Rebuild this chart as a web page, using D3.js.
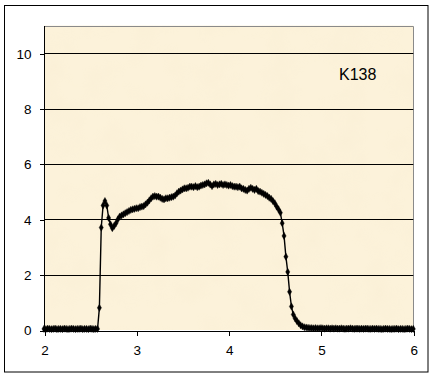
<!DOCTYPE html>
<html><head><meta charset="utf-8">
<script src="https://cdn.jsdelivr.net/npm/d3@7"></script>
<style>
html,body{margin:0;padding:0;background:#fff;}
svg{display:block;}
text{font-family:"Liberation Sans",Arial,sans-serif;fill:#000;}
</style></head>
<body>
<svg id="c" width="433" height="377"></svg>
<script>
const xTicks = [2, 3, 4, 5, 6];
const yTicks = [0, 2, 4, 6, 8, 10];
const seriesLabel = "K138";
const xs = [
2.00,2.02,2.04,2.06,2.08,2.10,2.12,2.14,2.16,2.18,
2.20,2.22,2.24,2.26,2.28,2.30,2.32,2.34,2.36,2.38,
2.40,2.42,2.44,2.46,2.48,2.50,2.52,2.54,2.56,2.58,
2.60,2.62,2.64,2.66,2.68,2.70,2.72,2.74,2.76,2.78,
2.80,2.82,2.84,2.86,2.88,2.90,2.92,2.94,2.96,2.98,
3.00,3.02,3.04,3.06,3.08,3.10,3.12,3.14,3.16,3.18,
3.20,3.22,3.24,3.26,3.28,3.30,3.32,3.34,3.36,3.38,
3.40,3.42,3.44,3.46,3.48,3.50,3.52,3.54,3.56,3.58,
3.60,3.62,3.64,3.66,3.68,3.70,3.72,3.74,3.76,3.78,
3.80,3.82,3.84,3.86,3.88,3.90,3.92,3.94,3.96,3.98,
4.00,4.02,4.04,4.06,4.08,4.10,4.12,4.14,4.16,4.18,
4.20,4.22,4.24,4.26,4.28,4.30,4.32,4.34,4.36,4.38,
4.40,4.42,4.44,4.46,4.48,4.50,4.52,4.54,4.56,4.58,
4.60,4.62,4.64,4.66,4.68,4.70,4.72,4.74,4.76,4.78,
4.80,4.82,4.84,4.86,4.88,4.90,4.92,4.94,4.96,4.98,
5.00,5.02,5.04,5.06,5.08,5.10,5.12,5.14,5.16,5.18,
5.20,5.22,5.24,5.26,5.28,5.30,5.32,5.34,5.36,5.38,
5.40,5.42,5.44,5.46,5.48,5.50,5.52,5.54,5.56,5.58,
5.60,5.62,5.64,5.66,5.68,5.70,5.72,5.74,5.76,5.78,
5.80,5.82,5.84,5.86,5.88,5.90,5.92,5.94,5.96,5.98,
6.00];
const ys = [
0.04,0.03,0.05,0.04,0.03,0.04,0.05,0.03,0.04,0.04,
0.03,0.05,0.04,0.03,0.04,0.05,0.04,0.03,0.04,0.04,
0.05,0.03,0.04,0.04,0.03,0.05,0.04,0.03,0.04,0.04,
0.80,3.70,4.50,4.66,4.50,4.05,3.82,3.68,3.76,3.86,
4.00,4.10,4.14,4.18,4.22,4.26,4.30,4.34,4.36,4.38,
4.40,4.40,4.44,4.46,4.48,4.54,4.60,4.68,4.76,4.82,
4.84,4.82,4.82,4.78,4.74,4.72,4.76,4.76,4.78,4.80,
4.82,4.86,4.94,5.00,5.04,5.08,5.12,5.12,5.14,5.18,
5.18,5.16,5.20,5.16,5.18,5.22,5.24,5.26,5.30,5.32,
5.26,5.20,5.26,5.28,5.24,5.26,5.28,5.24,5.26,5.24,
5.22,5.24,5.20,5.18,5.18,5.16,5.18,5.12,5.10,5.06,
5.04,5.10,5.14,5.10,5.06,5.10,5.02,5.00,4.96,4.92,
4.88,4.84,4.78,4.74,4.66,4.58,4.46,4.36,4.24,3.86,
3.40,2.65,2.10,1.38,0.85,0.56,0.42,0.32,0.24,0.17,
0.13,0.10,0.09,0.08,0.07,0.07,0.06,0.07,0.06,0.06,
0.07,0.06,0.05,0.06,0.06,0.05,0.06,0.05,0.06,0.05,
0.05,0.06,0.05,0.04,0.05,0.05,0.06,0.05,0.04,0.05,
0.05,0.04,0.05,0.04,0.05,0.05,0.04,0.04,0.05,0.04,
0.05,0.04,0.04,0.03,0.04,0.05,0.04,0.04,0.03,0.04,
0.04,0.05,0.03,0.04,0.04,0.03,0.04,0.05,0.04,0.03,
0.04];

const data = xs.map((x, i) => ({x, y: ys[i]}));
const svg = d3.select("#c");
const L = 44, R = 413.3, B = 330, T = 25.6;
const x = d3.scaleLinear().domain([2, 6]).range([L, R]);
const y = d3.scaleLinear().domain([0, 11]).range([B, T]);

// outer border
svg.append("rect").attr("x", 4.5).attr("y", 5.5).attr("width", 423.5).attr("height", 366.5)
  .attr("fill", "#fff").attr("stroke", "#000").attr("stroke-width", 1);

// parchment texture
const defs = svg.append("defs");
const f = defs.append("filter").attr("id", "tex").attr("x", 0).attr("y", 0).attr("width", 1).attr("height", 1);
f.append("feTurbulence").attr("type", "fractalNoise").attr("baseFrequency", 0.03).attr("numOctaves", 3).attr("seed", 4).attr("result", "n");
f.append("feColorMatrix").attr("in", "n").attr("type", "matrix")
  .attr("values", "0 0 0 0 0.85  0 0 0 0 0.74  0 0 0 0 0.52  0 0 0 -1 0.6");
f.append("feComposite").attr("in2", "SourceGraphic").attr("operator", "in");

svg.append("rect").attr("x", L).attr("y", T).attr("width", R - L).attr("height", B - T)
  .attr("fill", "#FCF2DA");
svg.append("rect").attr("x", L).attr("y", T).attr("width", R - L).attr("height", B - T)
  .attr("fill", "#000").attr("filter", "url(#tex)").attr("opacity", 0.2);

// plot border top/right gray
svg.append("path").attr("d", `M${L},${Math.round(T) + 0.5}H${Math.round(R) + 0.5}V${B}`)
  .attr("fill", "none").attr("stroke", "#8a8a8a").attr("stroke-width", 1);

// gridlines
svg.append("g").selectAll("line").data(yTicks.filter(d => d > 0)).join("line")
  .attr("x1", L).attr("x2", R).attr("y1", d => Math.round(y(d)) + 0.5).attr("y2", d => Math.round(y(d)) + 0.5)
  .attr("stroke", "#000").attr("stroke-width", 1);

// axes
const xAxis = svg.append("g").attr("transform", `translate(0.5,${Math.round(B) + 0.5})`)
  .call(d3.axisBottom(x).tickValues(xTicks).tickSizeInner(5).tickSizeOuter(0).tickPadding(10).tickFormat(d3.format("d")));
const yAxis = svg.append("g").attr("transform", `translate(${L + 0.5},0.5)`)
  .call(d3.axisLeft(y).tickValues(yTicks).tickSizeInner(5).tickSizeOuter(0).tickPadding(8).tickFormat(d3.format("d")));
[xAxis, yAxis].forEach(g => {
  g.selectAll("path,line").attr("stroke", "#000").attr("shape-rendering", "crispEdges");
  g.selectAll("text").attr("font-size", 13.5).attr("font-family", "Liberation Sans, Arial, sans-serif").attr("fill", "#000");
});
yAxis.select(".domain").attr("d", `M0,${T}V${B}`);

// line
svg.append("path").datum(data)
  .attr("d", d3.line().x(d => x(d.x)).y(d => y(d.y)))
  .attr("fill", "none").attr("stroke", "#000").attr("stroke-width", 1.4);

// markers
const sym = d3.symbol().type(d3.symbolDiamond).size(15);
svg.append("g").selectAll("path").data(data).join("path")
  .attr("transform", d => `translate(${x(d.x)},${y(d.y)})`)
  .attr("d", sym).attr("fill", "#000").attr("stroke", "#000").attr("stroke-width", 0.4);

// label
svg.append("text").attr("x", 339).attr("y", 80).attr("font-size", 16).text(seriesLabel);
</script>
</body></html>
